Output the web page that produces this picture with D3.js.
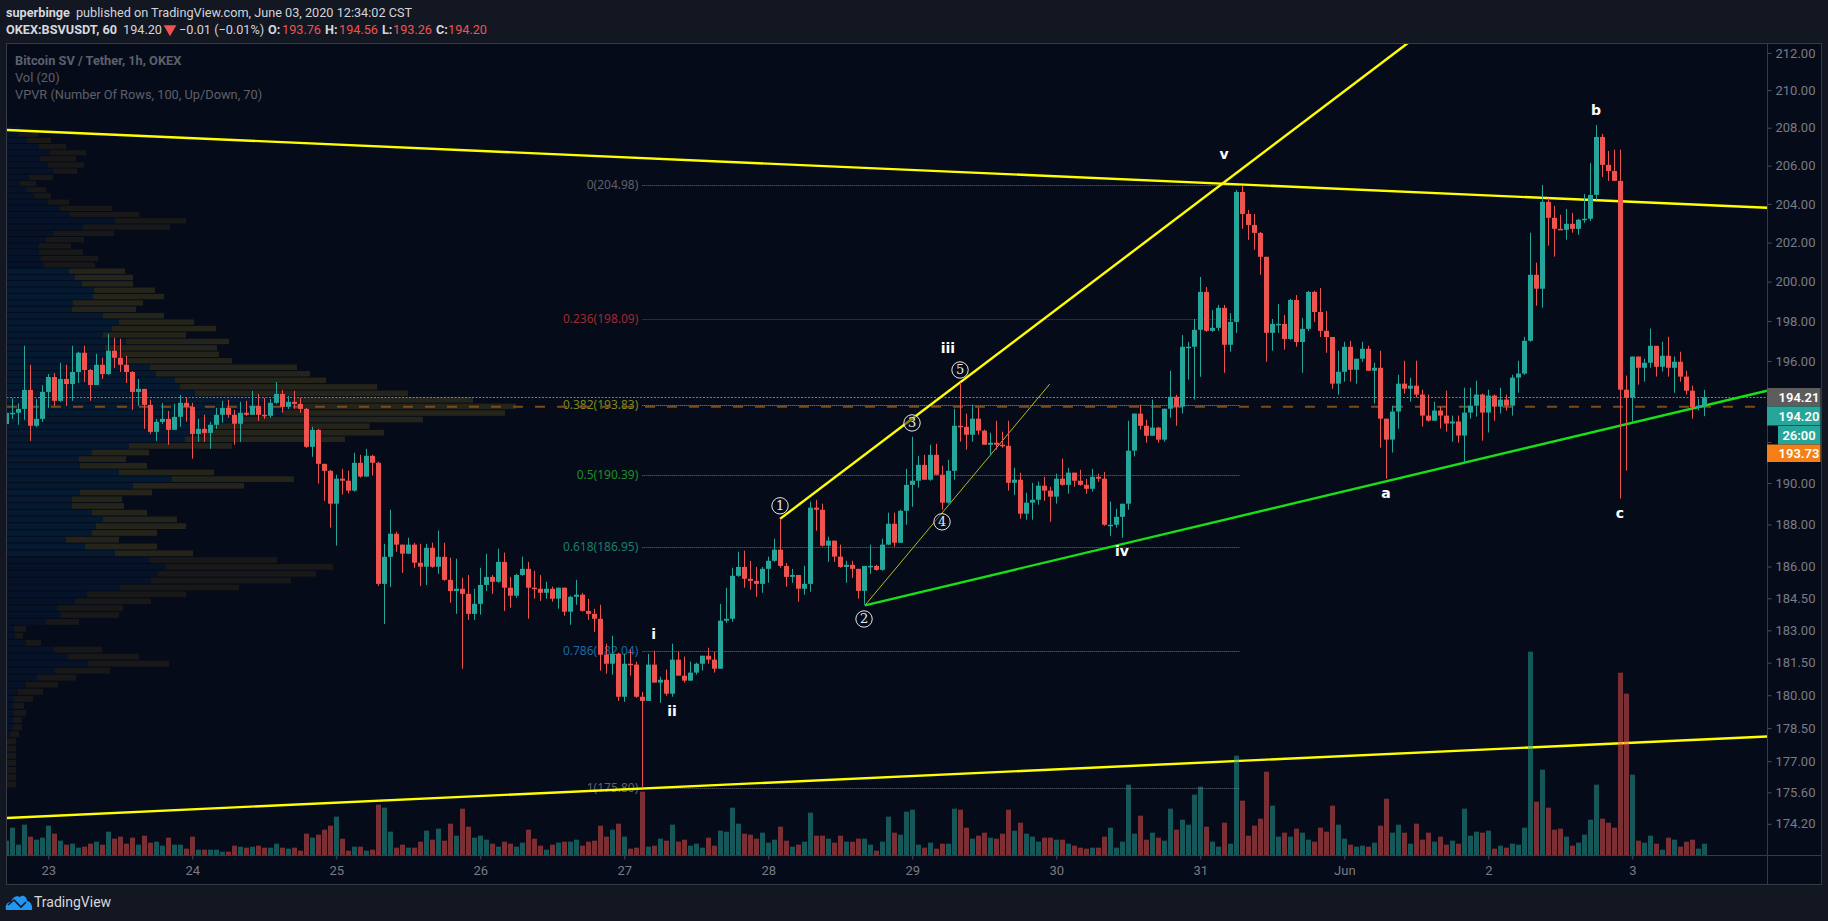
<!DOCTYPE html>
<html><head><meta charset="utf-8">
<style>html,body{margin:0;padding:0;background:#131722;overflow:hidden}text{font-family:Roboto,"Noto Sans",sans-serif}</style>
<script src="https://cdn.jsdelivr.net/npm/d3@7"></script></head>
<body><svg id="c" width="1828" height="921"></svg>
<script>
const firstOpen=192.88;
const closes=[193.42,193.43,193.62,194.56,192.79,193.13,194.46,195.20,194.02,195.10,194.85,195.45,196.41,195.55,194.80,195.81,195.35,196.51,196.16,195.81,195.45,194.46,194.61,193.82,192.49,192.98,193.13,192.59,193.23,193.92,193.72,192.39,192.64,192.44,192.84,193.33,193.67,193.33,192.89,193.43,193.33,193.77,193.33,193.28,193.92,194.36,193.72,193.97,193.87,193.62,
191.76,192.59,190.93,190.59,189.00,190.21,190.11,189.63,190.98,190.31,191.32,190.98,185.18,186.46,187.56,187.04,186.61,187.04,186.18,185.99,186.89,185.99,186.46,185.37,184.84,
184.95,184.71,183.77,184.24,185.13,185.51,185.28,186.22,185.00,184.62,185.60,185.89,185.00,184.95,184.76,184.95,184.48,185.00,183.87,184.57,184.67,183.91,183.77,183.54,181.87,181.45,181.91,179.93,181.45,181.41,179.93,179.74,181.41,180.58,180.71,180.07,181.64,180.90,180.67,181.04,181.45,181.82,181.64,181.22,183.45,183.54,185.56,185.98,185.42,185.32,185.18,185.89,186.27,186.80,186.03,185.51,185.60,184.95,185.18,188.81,188.71,186.99,187.23,186.47,185.98,186.08,185.89,184.85,186.03,186.03,185.84,187.04,
188.04,187.13,188.66,189.91,190.11,190.88,190.16,191.37,190.40,189.05,190.59,192.79,192.74,192.35,193.14,192.55,191.86,191.96,191.86,191.81,190.01,190.16,188.52,189.05,189.19,189.87,189.63,189.34,190.21,189.91,190.50,190.11,189.91,189.72,190.30,190.21,187.99,187.99,188.37,189.00,191.57,193.39,192.79,192.30,192.70,192.11,193.63,194.22,193.73,196.71,196.71,197.56,199.48,197.51,197.66,198.67,196.81,197.96,204.62,203.48,202.91,202.50,201.27,197.41,197.86,197.86,197.10,199.07,196.95,197.61,199.48,198.46,197.51,197.20,194.87,195.46,
196.71,195.56,196.11,196.61,195.51,195.66,193.14,192.11,193.49,194.87,194.62,194.77,194.33,193.29,193.04,193.54,193.29,192.90,193.00,192.31,193.44,193.78,194.33,193.44,194.28,193.73,194.08,193.78,195.17,195.37,197.01,200.35,199.64,204.11,203.28,202.71,202.66,202.97,202.71,203.18,203.23,204.47,207.51,206.04,205.72,205.20,194.57,194.18,196.22,195.66,195.91,196.76,195.71,196.26,195.66,195.96,195.22,194.52,193.69,193.78,194.20];
const highs=[193.60,194.15,193.90,196.76,195.81,194.11,194.80,195.35,195.40,195.91,195.81,196.76,196.46,196.76,195.60,196.36,196.16,197.36,197.16,197.11,196.26,195.50,195.10,194.61,194.07,193.13,193.92,193.52,193.87,194.31,194.21,193.92,193.13,193.33,192.98,193.67,194.02,194.07,193.57,193.97,194.02,194.51,194.36,194.16,194.11,194.95,194.56,194.26,194.51,194.16,
193.67,192.74,192.64,190.93,190.64,190.40,190.69,190.60,191.47,191.37,191.66,191.37,191.03,187.08,188.71,187.66,187.04,187.37,187.13,187.08,187.08,187.13,187.71,187.13,186.42,
186.37,185.47,185.60,184.95,185.94,186.60,185.60,186.85,186.66,185.51,185.65,186.47,186.22,185.80,185.60,185.28,185.05,185.00,185.00,184.62,185.37,184.76,184.48,184.01,184.20,182.38,182.75,181.96,181.91,182.10,181.55,180.15,181.91,182.05,180.85,181.18,182.38,182.00,181.78,181.55,181.50,181.82,182.19,182.00,184.24,185.00,185.94,186.70,186.75,186.27,185.98,185.98,186.47,187.32,188.28,186.17,185.89,185.60,186.03,189.10,189.19,189.00,187.42,187.23,187.04,186.27,186.27,185.89,186.03,187.04,186.08,187.32,
188.57,188.57,188.71,190.69,192.25,191.32,191.37,191.86,191.91,190.84,191.13,193.63,194.92,193.39,193.83,193.68,192.60,192.45,193.04,192.50,193.04,190.74,190.50,189.53,190.01,190.07,190.30,189.82,190.45,191.18,190.74,190.50,190.64,190.20,190.69,190.45,190.54,189.10,188.76,189.00,193.04,193.39,193.83,193.09,194.08,192.74,193.63,195.51,194.32,197.30,196.95,198.11,200.24,199.73,198.56,198.82,198.82,198.41,204.73,204.93,203.69,203.48,202.55,201.27,198.11,198.87,198.31,199.12,199.32,198.16,199.53,199.53,199.68,198.51,197.15,196.51,
196.96,197.01,196.11,196.96,196.76,195.91,196.51,193.14,193.78,195.31,196.01,195.16,196.01,194.57,194.33,193.98,193.73,194.52,193.29,193.29,194.67,194.67,195.02,194.38,194.57,194.33,194.67,194.33,195.31,196.01,197.21,202.51,200.97,204.99,204.31,203.90,203.44,203.74,203.54,203.23,204.52,206.14,208.14,207.67,206.77,206.84,206.84,195.27,196.22,196.22,196.11,197.62,196.66,196.96,197.21,196.22,196.46,195.51,194.77,194.13,194.56];
const lows=[192.80,193.13,192.84,193.08,192.05,192.73,192.98,193.67,193.77,193.97,193.77,194.02,194.90,194.95,194.02,194.80,195.10,195.30,195.65,195.45,194.90,193.57,193.77,192.64,192.39,192.05,192.88,191.86,192.64,192.74,192.99,191.18,192.00,192.00,191.66,192.64,192.94,193.18,191.86,192.00,193.28,193.33,193.03,193.13,193.18,193.87,193.43,193.62,193.62,193.43,
191.71,191.27,189.97,189.14,187.85,186.99,189.44,189.49,189.58,190.26,190.31,190.36,185.08,183.30,185.03,186.70,185.70,186.61,185.94,185.08,185.13,185.94,185.65,185.32,184.29,
183.77,181.22,183.49,183.49,183.73,184.85,184.71,185.23,183.91,184.06,184.52,185.56,183.54,184.48,184.38,184.48,184.34,184.01,183.68,183.26,184.20,183.87,183.49,182.93,181.13,180.99,180.95,179.74,179.70,180.90,179.88,175.80,179.84,180.58,179.65,179.98,179.93,180.90,180.58,180.67,180.95,181.13,181.45,181.04,181.22,183.35,183.40,185.51,185.00,184.90,184.57,184.76,185.23,186.22,185.94,185.04,185.23,184.34,184.67,184.81,187.70,186.95,186.22,186.22,185.94,185.23,185.46,184.48,184.20,185.65,185.80,185.80,
187.03,186.94,187.13,187.99,188.85,189.77,190.16,190.11,190.40,188.71,189.00,190.16,192.01,191.62,192.01,192.35,191.86,191.37,191.62,191.71,189.63,189.43,188.28,188.23,188.23,188.95,189.14,188.13,189.00,189.87,189.48,189.82,189.87,189.48,189.58,190.06,187.94,187.46,187.85,187.37,188.71,191.29,192.60,191.96,192.30,191.96,192.01,193.19,192.79,193.39,195.07,194.08,195.21,197.46,197.46,197.51,195.41,196.46,197.41,202.71,202.14,201.63,200.35,195.96,196.51,197.41,196.56,197.05,196.71,195.41,197.51,197.96,197.20,196.41,194.62,194.32,
194.97,194.97,194.87,195.96,195.51,193.88,191.72,190.21,191.48,192.65,194.37,193.98,194.18,192.75,192.99,193.04,192.65,192.50,192.01,191.96,190.99,193.14,193.24,192.06,192.46,193.04,193.39,193.54,193.29,194.42,195.31,196.96,198.78,198.68,201.84,201.28,202.66,202.15,202.51,202.40,203.02,203.12,204.21,205.41,205.20,205.20,189.25,190.60,193.00,194.82,194.97,195.66,195.22,195.47,195.22,194.42,194.97,194.33,193.14,193.54,193.26];
const volumes=[43,82,31,91,55,46,52,88,64,43,31,34,22,25,34,40,31,70,49,55,34,52,31,58,37,40,28,52,31,31,19,55,16,16,16,16,10,10,28,25,22,25,28,22,22,34,22,19,22,13,
64,52,61,76,88,115,49,13,25,25,13,16,151,142,70,22,31,22,22,40,73,46,79,43,94,58,139,85,52,58,46,34,25,40,34,25,37,76,49,28,16,31,37,40,40,46,28,40,43,88,55,76,94,55,19,22,190,25,28,49,43,91,40,46,28,34,22,52,28,73,70,142,94,64,61,49,67,37,46,85,43,25,31,40,127,58,58,49,37,58,40,40,49,49,31,13,40,115,67,
61,130,136,31,22,37,19,34,34,139,136,82,49,58,67,52,49,64,136,73,97,64,55,40,52,52,46,46,34,28,22,19,22,22,55,82,22,40,211,64,118,46,67,52,43,139,76,106,91,181,205,85,40,25,97,34,298,163,58,88,109,250,148,55,67,55,79,67,46,40,82,70,148,91,49,31,25,28,25,37,88,169,67,91,67,34,94,46,67,40,55,31,43,34,139,58,70,67,73,19,28,22,34,31,82,610,160,256,142,76,79,55,28,37,61,106,211,109,97,82,547,484,241,43,37,58,34,16,52,46,25,40,46,19,34];
const vpUp=[0,0,0,0,0,0,0,9,18,18,21,18,18,33,57,90,144,243,181,141,57,24,21,117,162,150,204,240,339,432,453,477,426,324,234,177,255,267,288,255,195,195,219,378,495,336,219,216,255,366,534,579,619,679,828,859,859,564,519,504,447,429,359,334,294,357,288,315,336,288,195,198,258,261,225,204,186,109,101,96,96,116,139,228,324,189,159,123,81,60,39,66,138,123,99,129,96,60,34,36];
const vpDown=[27,27,27,27,27,27,27,27,27,27,36,33,60,75,96,117,165,243,215,144,45,24,36,99,174,198,228,297,357,420,474,501,384,234,216,159,195,270,222,165,156,150,216,333,366,285,201,141,171,309,480,552,469,569,666,668,539,639,591,453,462,441,316,302,336,309,249,312,225,183,192,210,213,183,153,174,168,155,172,132,96,115,182,261,213,207,156,63,51,57,48,72,72,108,108,108,81,72,60,0];
const vpLow=175.80, vpStep=0.3234, vpValueArea=[33,76];
const priceTicks=[212,210,208,206,204,202,200,198,196,194,192,190,188,186,184.5,183,181.5,180,178.5,177,175.6,174.2];
const hiddenTickLabels=[194,192];
const dayIndex=[7,31,55,79,103,127,151,175,199,223,247,271];
const dayLabels=["23","24","25","26","27","28","29","30","31","Jun","2","3"];
const fibNames=["0","0.236","0.382","0.5","0.618","0.786","1"];
const fibPrices=[204.98,198.09,193.83,190.39,186.95,182.04,175.80];
const fibSpan=[106,205.6];
const lastPrice=194.21, closePrice=194.20, pocPrice=193.73;
const upperLine=[[0.11,207.88],[293.45,203.80]];
const lowerLine=[[0.11,174.46],[293.45,178.12]];
const risingLine=[[128.95,188.27],[233.6,212.54]];
const thinLine=[[143.1,184.17],[173.9,194.85]];
const greenLine=[[143.1,184.17],[293.45,194.52]];
const waveLabels=[["i",107.9,182.83],["ii",110.95,179.28],["iii",156.94,196.65],["iv",185.94,186.74],["v",202.95,206.61],["a",229.95,189.52],["b",264.95,208.94],["c",268.95,188.56]];
const circleLabels=[["1",128.95,188.9],["2",142.95,183.53],["3",150.95,192.93],["4",155.95,188.13],["5",158.95,195.55]];

const n=closes.length;
if(highs.length!==n||lows.length!==n||volumes.length!==n||vpUp.length!==vpDown.length)
  throw new Error("len "+[closes.length,highs.length,lows.length,volumes.length,vpUp.length,vpDown.length]);
const opens=closes.map((c,i)=>i?closes[i-1]:firstOpen);

const svg=d3.select("#c");
const W={l:6.5,r:1767.5,t:43.5,b:884.5,fr:1821.5,volBase:855};
const x=d3.scaleLinear().domain([0,283]).range([6.33,1704.33]);
const y=d3.scaleLog().domain([208,190]).range([127.7,483]);
const vy=d3.scaleLinear().domain([0,610]).range([W.volBase,W.volBase-610/3]);
const vw=d3.scaleLinear().domain([0,1]).range([0,1/3]);
const TEAL="#26a69a",RED="#ef5350",BG="#060b19";

svg.append("rect").attr("width",1828).attr("height",921).attr("fill","#131722");
svg.append("rect").attr("x",W.l).attr("y",W.t).attr("width",W.fr-W.l).attr("height",W.b-W.t).attr("fill",BG);
svg.append("defs").append("clipPath").attr("id","p").append("rect").attr("x",W.l).attr("y",W.t).attr("width",W.r-W.l).attr("height",W.b-W.t);
const g=svg.append("g").attr("clip-path","url(#p)");

// VPVR
const rows=vpUp.map((u,k)=>({k,u,d:vpDown[k],y0:y(vpLow+vpStep*k+0.02),y1:y(vpLow+vpStep*(k+1)-0.03)}));
const inVA=k=>k>=vpValueArea[0]&&k<=vpValueArea[1];
const vg=g.append("g").selectAll("g").data(rows).join("g");
vg.append("rect").attr("x",7).attr("y",d=>d.y1).attr("height",d=>d.y0-d.y1).attr("width",d=>vw(d.u)).attr("fill",d=>inVA(d.k)?"#051a30":"#061228");
vg.append("rect").attr("x",d=>7+vw(d.u)).attr("y",d=>d.y1).attr("height",d=>d.y0-d.y1).attr("width",d=>vw(d.d)).attr("fill",d=>inVA(d.k)?"#25241b":"#181819");

// fib levels
const fibCol=["#5d606b","#9c2a2f","#7d8a1f","#1f8f25","#1d7f69","#1b6aa3","#5d606b"];
const fibLine=["#6a6d78","#a32b30","#9aa52a","#2f9e35","#25907a","#2a86c8","#6a6d78"];
fibPrices.forEach((p,i)=>{
  g.append("line").attr("x1",x(fibSpan[0])).attr("x2",x(fibSpan[1])).attr("y1",Math.round(y(p))+.5).attr("y2",Math.round(y(p))+.5)
   .attr("stroke",fibLine[i]).attr("stroke-dasharray","1,1");
  g.append("text").attr("x",x(fibSpan[0])-4).attr("y",y(p)+4).attr("text-anchor","end").attr("font-size",12).style("font-family","'Noto Sans'").attr("fill",fibCol[i]).text(fibNames[i]+"("+p.toFixed(2)+")");
});

// price lines
g.append("line").attr("x1",W.l).attr("x2",W.r).attr("y1",Math.round(y(lastPrice))+.5).attr("y2",Math.round(y(lastPrice))+.5).attr("stroke",TEAL).attr("stroke-dasharray","2,1.5");
g.append("line").attr("x1",7).attr("x2",W.r).attr("y1",y(pocPrice)).attr("y2",y(pocPrice)).attr("stroke","#7f4a17").attr("stroke-width",2).attr("stroke-dasharray","10,12");

// trend lines
const ln=d3.line().x(d=>x(d[0])).y(d=>y(d[1]));
[[upperLine,"#ffff00",2.4],[lowerLine,"#ffff00",2.4],[risingLine,"#ffff00",2.4],[thinLine,"#b9b91e",1],[greenLine,"#16e016",2.4]].forEach(([d,c,w])=>{
  g.append("path").attr("d",ln(d)).attr("fill","none").attr("stroke",c).attr("stroke-width",w);
});

// volume
g.append("g").selectAll("rect").data(volumes).join("rect")
 .attr("x",(d,i)=>Math.round(x(i))-2).attr("width",5).attr("y",d=>vy(d)).attr("height",d=>W.volBase-vy(d))
 .attr("fill",(d,i)=>closes[i]>=opens[i]?TEAL:RED).attr("opacity",.5);

// candles
const cg=g.append("g").selectAll("g").data(closes).join("g");
const col=(d,i)=>d>=opens[i]?TEAL:RED;
cg.append("line").attr("x1",(d,i)=>Math.round(x(i))+.5).attr("x2",(d,i)=>Math.round(x(i))+.5)
  .attr("y1",(d,i)=>y(highs[i])).attr("y2",(d,i)=>y(lows[i])).attr("stroke",col);
cg.append("rect").attr("x",(d,i)=>Math.round(x(i))-2).attr("width",5)
  .attr("y",(d,i)=>y(Math.max(d,opens[i]))).attr("height",(d,i)=>Math.max(1.5,Math.abs(y(d)-y(opens[i])))).attr("fill",col);

// annotations
const ann=svg.append("g");
ann.selectAll("text.w").data(waveLabels).join("text").attr("class","w").attr("x",d=>x(d[1])).attr("y",d=>y(d[2])+5)
  .attr("text-anchor","middle").attr("fill","#fff").attr("font-size",14).attr("font-weight",700).style("font-family","'DejaVu Sans'").text(d=>d[0]);
const cc=ann.selectAll("g.c").data(circleLabels).join("g").attr("class","c").attr("transform",d=>`translate(${x(d[1])},${y(d[2])})`);
cc.append("circle").attr("r",8.2).attr("fill",BG).attr("fill-opacity",0.5).attr("stroke","#e8e8e8").attr("stroke-width",1);
cc.append("text").attr("y",4.5).attr("text-anchor","middle").attr("fill","#e8e8e8").attr("font-size",13).style("font-family","'DejaVu Serif'").text(d=>d[0]);

// axes
const xAxis=d3.axisBottom(x).tickValues(dayIndex).tickFormat((d,i)=>dayLabels[i]).tickSize(4).tickPadding(6);
const xa=svg.append("g").attr("transform",`translate(0,${W.volBase+.5})`).call(xAxis);
xa.select(".domain").remove();
xa.selectAll("line").attr("stroke","#4a4e5a");
xa.selectAll("text").attr("fill","#787b86").attr("font-size",13).style("font-family","Roboto");
const yAxis=d3.axisRight(y).tickValues(priceTicks).tickFormat(d=>hiddenTickLabels.includes(d)?"":d3.format(".2f")(d)).tickSize(4).tickPadding(4);
const ya=svg.append("g").attr("transform",`translate(${W.r},0)`).call(yAxis);
ya.select(".domain").remove();
ya.selectAll("line").attr("stroke","#4a4e5a");
ya.selectAll("text").attr("fill","#787b86").attr("font-size",13).style("font-family","Roboto");

// frame
svg.append("rect").attr("x",W.l).attr("y",W.t).attr("width",W.fr-W.l).attr("height",W.b-W.t).attr("fill","none").attr("stroke","#363a45");
svg.append("line").attr("x1",W.r).attr("x2",W.r).attr("y1",W.t).attr("y2",W.b).attr("stroke","#363a45");
svg.append("line").attr("x1",W.l).attr("x2",W.fr).attr("y1",W.volBase+.5).attr("y2",W.volBase+.5).attr("stroke","#363a45");

// price labels
const pl=[[lastPrice.toFixed(2),1767,388,53.5,18.5,"#5d5d5d"],[closePrice.toFixed(2),1767,406.5,53.5,19,TEAL],["26:00",1778,426,42.5,18.5,TEAL],[pocPrice.toFixed(2),1767,444.5,53.5,17.5,"#f57f17"]];
pl.forEach(([t,px,py,w,h,c])=>{
  svg.append("rect").attr("x",px).attr("y",py).attr("width",w).attr("height",h).attr("fill",c);
  svg.append("text").attr("x",1799).attr("y",py+h/2+4.5).attr("text-anchor","middle").attr("fill","#fff").attr("font-size",13).attr("font-weight",600).text(t);
});

// header
function T(s,px,py,col,o={}){const t=svg.append("text").attr("x",px).attr("y",py).attr("fill",col).attr("font-size",o.s||12.7).text(s);if(o.b)t.attr("font-weight",o.b);return t;}
T("superbinge",6,17,"#d6d8de",{b:700});
T("published on TradingView.com, June 03, 2020 12:34:02 CST",76,17,"#d1d4dc");
T("OKEX:BSVUSDT, 60",6,34,"#d6d8de",{b:700});
T("194.20",123,34,"#d1d4dc");
svg.append("path").attr("d",d3.symbol(d3.symbolTriangle,70)()).attr("transform","translate(170,29) rotate(180)").attr("fill","#ef5350");
T("−0.01 (−0.01%)",179,34,"#d1d4dc");
[["O:",268,"193.76",282],["H:",325,"194.56",339],["L:",382,"193.26",393],["C:",436,"194.20",448]].forEach(([a,ax,b,bx])=>{
  T(a,ax,34,"#d6d8de",{b:700});T(b,bx,34,"#ef5350");
});
T("Bitcoin SV / Tether, 1h, OKEX",15,65,"#5d606b",{b:700,s:12.8});
T("Vol (20)",15,82,"#5d606b",{s:12.8});
T("VPVR (Number Of Rows, 100, Up/Down, 70)",15,99,"#5d606b",{s:12.8});

// logo
svg.append("path").attr("d","M6 910 C5 905 7 902 11 902 C12 898 16 895 20 897 C23 894 27 897 27 901 C30 901 33 905 32 910 Z").attr("fill","#2196f3");
svg.append("path").attr("d","M8 905 L14 900 L21 907 L26 902").attr("fill","none").attr("stroke","#131722").attr("stroke-width",1.6);
T("TradingView",34,907,"#d6d8de",{s:14});
</script></body></html>
